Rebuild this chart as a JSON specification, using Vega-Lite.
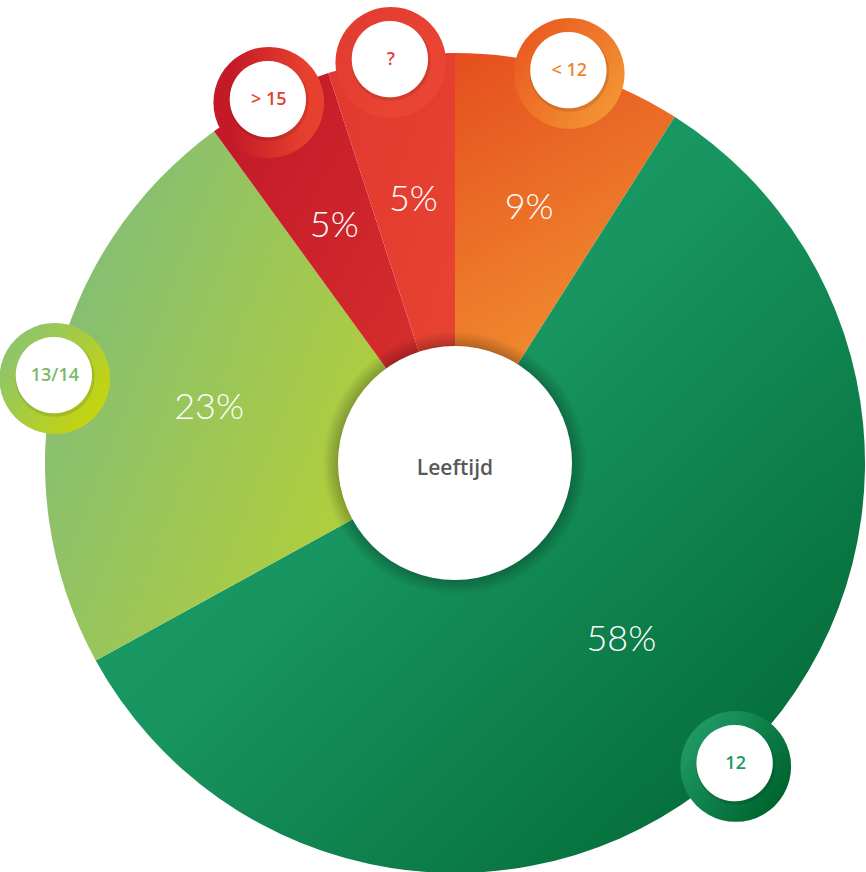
{
  "$schema": "https://vega.github.io/schema/vega-lite/v6.json",
  "width": 822,
  "height": 810,
  "autosize": {"type": "none"},
  "padding": {"left": 44, "top": 58, "right": 0, "bottom": 4},
  "background": "white",
  "config": {"view": {"stroke": null}},
  "data": {
    "values": [
      {"cat": "< 12", "value": 9, "ord": 1, "pct": "9%"},
      {"cat": "12", "value": 58, "ord": 2, "pct": "58%"},
      {"cat": "13/14", "value": 23, "ord": 3, "pct": "23%"},
      {"cat": "> 15", "value": 5, "ord": 4, "pct": "5%"},
      {"cat": "?", "value": 5, "ord": 5, "pct": "5%"}
    ]
  },
  "layer": [
    {
      "mark": {"type": "arc", "outerRadius": 410, "innerRadius": 0},
      "encoding": {
        "theta": {"field": "value", "type": "quantitative", "stack": true},
        "order": {"field": "ord", "type": "quantitative"},
        "fill": {
          "condition": [
            {"test": "datum.cat === '< 12'", "value": {"gradient": "linear", "x1": 0, "y1": 0, "x2": 0.3, "y2": 1, "stops": [{"offset": 0, "color": "#e54e1e"}, {"offset": 1, "color": "#f39a33"}]}},
            {"test": "datum.cat === '12'", "value": {"gradient": "linear", "x1": 0, "y1": 0, "x2": 1, "y2": 1, "stops": [{"offset": 0, "color": "#23a873"}, {"offset": 0.45, "color": "#17945f"}, {"offset": 1, "color": "#00622f"}]}},
            {"test": "datum.cat === '13/14'", "value": {"gradient": "linear", "x1": 0, "y1": 0.3, "x2": 1, "y2": 0.8, "stops": [{"offset": 0, "color": "#82bd78"}, {"offset": 1, "color": "#bfd329"}]}},
            {"test": "datum.cat === '> 15'", "value": {"gradient": "linear", "x1": 0, "y1": 0, "x2": 1, "y2": 1, "stops": [{"offset": 0, "color": "#c0172a"}, {"offset": 1, "color": "#dc332d"}]}}
          ],
          "value": {"gradient": "linear", "x1": 0, "y1": 0, "x2": 1, "y2": 1, "stops": [{"offset": 0, "color": "#e2382f"}, {"offset": 1, "color": "#e84532"}]}
        }
      }
    },
    {
      "data": {"values": [{"k": "shadow"}]},
      "mark": {"type": "arc", "theta": 0, "theta2": 6.2832, "innerRadius": 0, "outerRadius": 132,
        "fill": {"gradient": "radial", "x1": 0.5, "y1": 0.5, "r1": 0, "x2": 0.5, "y2": 0.5, "r2": 0.5,
          "stops": [{"offset": 0, "color": "rgba(0,0,0,0.28)"}, {"offset": 0.87, "color": "rgba(0,0,0,0.28)"}, {"offset": 1, "color": "rgba(0,0,0,0)"}]}},
      "encoding": {}
    },
    {
      "data": {"values": [{"k": "hole"}]},
      "mark": {"type": "arc", "theta": 0, "theta2": 6.2832, "innerRadius": 0, "outerRadius": 117, "fill": "white"},
      "encoding": {}
    },
    {
      "data": {"values": [{"k": "Leeftijd"}]},
      "mark": {"type": "text", "font": "Open Sans", "fontSize": 21, "fontWeight": 600, "fill": "#58595b", "align": "center", "baseline": "middle", "dy": 6},
      "encoding": {"text": {"field": "k", "type": "nominal"}}
    },
    {
      "mark": {"type": "text", "text": "●", "font": "DejaVu Sans", "fontSize": 145, "radius": 410, "align": "center", "baseline": "middle", "dy": -2},
      "encoding": {
        "theta": {"field": "value", "type": "quantitative", "stack": true},
        "order": {"field": "ord", "type": "quantitative"},
        "fill": {
          "condition": [
            {"test": "datum.cat === '< 12'", "value": {"gradient": "linear", "x1": 0, "y1": 0, "x2": 1, "y2": 1, "stops": [{"offset": 0.2, "color": "#e8561f"}, {"offset": 0.8, "color": "#f39233"}]}},
            {"test": "datum.cat === '12'", "value": {"gradient": "linear", "x1": 0, "y1": 0, "x2": 1, "y2": 1, "stops": [{"offset": 0.2, "color": "#22a06b"}, {"offset": 0.8, "color": "#00652f"}]}},
            {"test": "datum.cat === '13/14'", "value": {"gradient": "linear", "x1": 0, "y1": 0, "x2": 1, "y2": 1, "stops": [{"offset": 0.2, "color": "#86c278"}, {"offset": 0.8, "color": "#c5d40f"}]}},
            {"test": "datum.cat === '> 15'", "value": {"gradient": "linear", "x1": 0, "y1": 0, "x2": 1, "y2": 0, "stops": [{"offset": 0.2, "color": "#c41a28"}, {"offset": 0.8, "color": "#e8402f"}]}}
          ],
          "value": {"gradient": "linear", "x1": 0, "y1": 0, "x2": 1, "y2": 1, "stops": [{"offset": 0.2, "color": "#e23a30"}, {"offset": 0.8, "color": "#ea4634"}]}
        }
      }
    },
    {
      "mark": {"type": "text", "text": "●", "font": "DejaVu Sans", "fontSize": 104, "radius": 410, "align": "center", "baseline": "middle", "dy": -1, "dx": 0, "fill": "rgba(0,0,0,0.1)"},
      "encoding": {
        "theta": {"field": "value", "type": "quantitative", "stack": true},
        "order": {"field": "ord", "type": "quantitative"}
      }
    },
    {
      "mark": {"type": "text", "text": "●", "font": "DejaVu Sans", "fontSize": 100, "radius": 410, "align": "center", "baseline": "middle", "dy": -3, "dx": -1, "fill": "white"},
      "encoding": {
        "theta": {"field": "value", "type": "quantitative", "stack": true},
        "order": {"field": "ord", "type": "quantitative"}
      }
    },
    {
      "mark": {"type": "text", "font": "Open Sans", "fontSize": 18, "fontWeight": 600, "radius": 410, "align": "center", "baseline": "middle", "dy": 2},
      "encoding": {
        "theta": {"field": "value", "type": "quantitative", "stack": true},
        "order": {"field": "ord", "type": "quantitative"},
        "text": {"field": "cat", "type": "nominal"},
        "fill": {
          "condition": [
            {"test": "datum.cat === '< 12'", "value": "#f0872d"},
            {"test": "datum.cat === '12'", "value": "#1a9a5e"},
            {"test": "datum.cat === '13/14'", "value": "#78bb6b"},
            {"test": "datum.cat === '> 15'", "value": "#e53f30"}
          ],
          "value": "#e84033"
        }
      }
    },
    {
      "mark": {"type": "text", "font": "Lato", "fontSize": 36, "fontWeight": 300, "radius": 266, "align": "center", "baseline": "middle", "fill": "white"},
      "encoding": {
        "theta": {"field": "value", "type": "quantitative", "stack": true},
        "order": {"field": "ord", "type": "quantitative"},
        "text": {"condition": {"test": "datum.value < 10", "field": "pct", "type": "nominal"}, "value": ""}
      }
    },
    {
      "mark": {"type": "text", "font": "Lato", "fontSize": 36, "fontWeight": 300, "radius": 252, "align": "center", "baseline": "middle", "fill": "white"},
      "encoding": {
        "theta": {"field": "value", "type": "quantitative", "stack": true},
        "order": {"field": "ord", "type": "quantitative"},
        "text": {"condition": {"test": "datum.cat === '13/14'", "field": "pct", "type": "nominal"}, "value": ""}
      }
    },
    {
      "mark": {"type": "text", "font": "Lato", "fontSize": 36, "fontWeight": 300, "radius": 243, "align": "center", "baseline": "middle", "fill": "white"},
      "encoding": {
        "theta": {"field": "value", "type": "quantitative", "stack": true},
        "order": {"field": "ord", "type": "quantitative"},
        "text": {"condition": {"test": "datum.cat === '12'", "field": "pct", "type": "nominal"}, "value": ""}
      }
    }
  ]
}
